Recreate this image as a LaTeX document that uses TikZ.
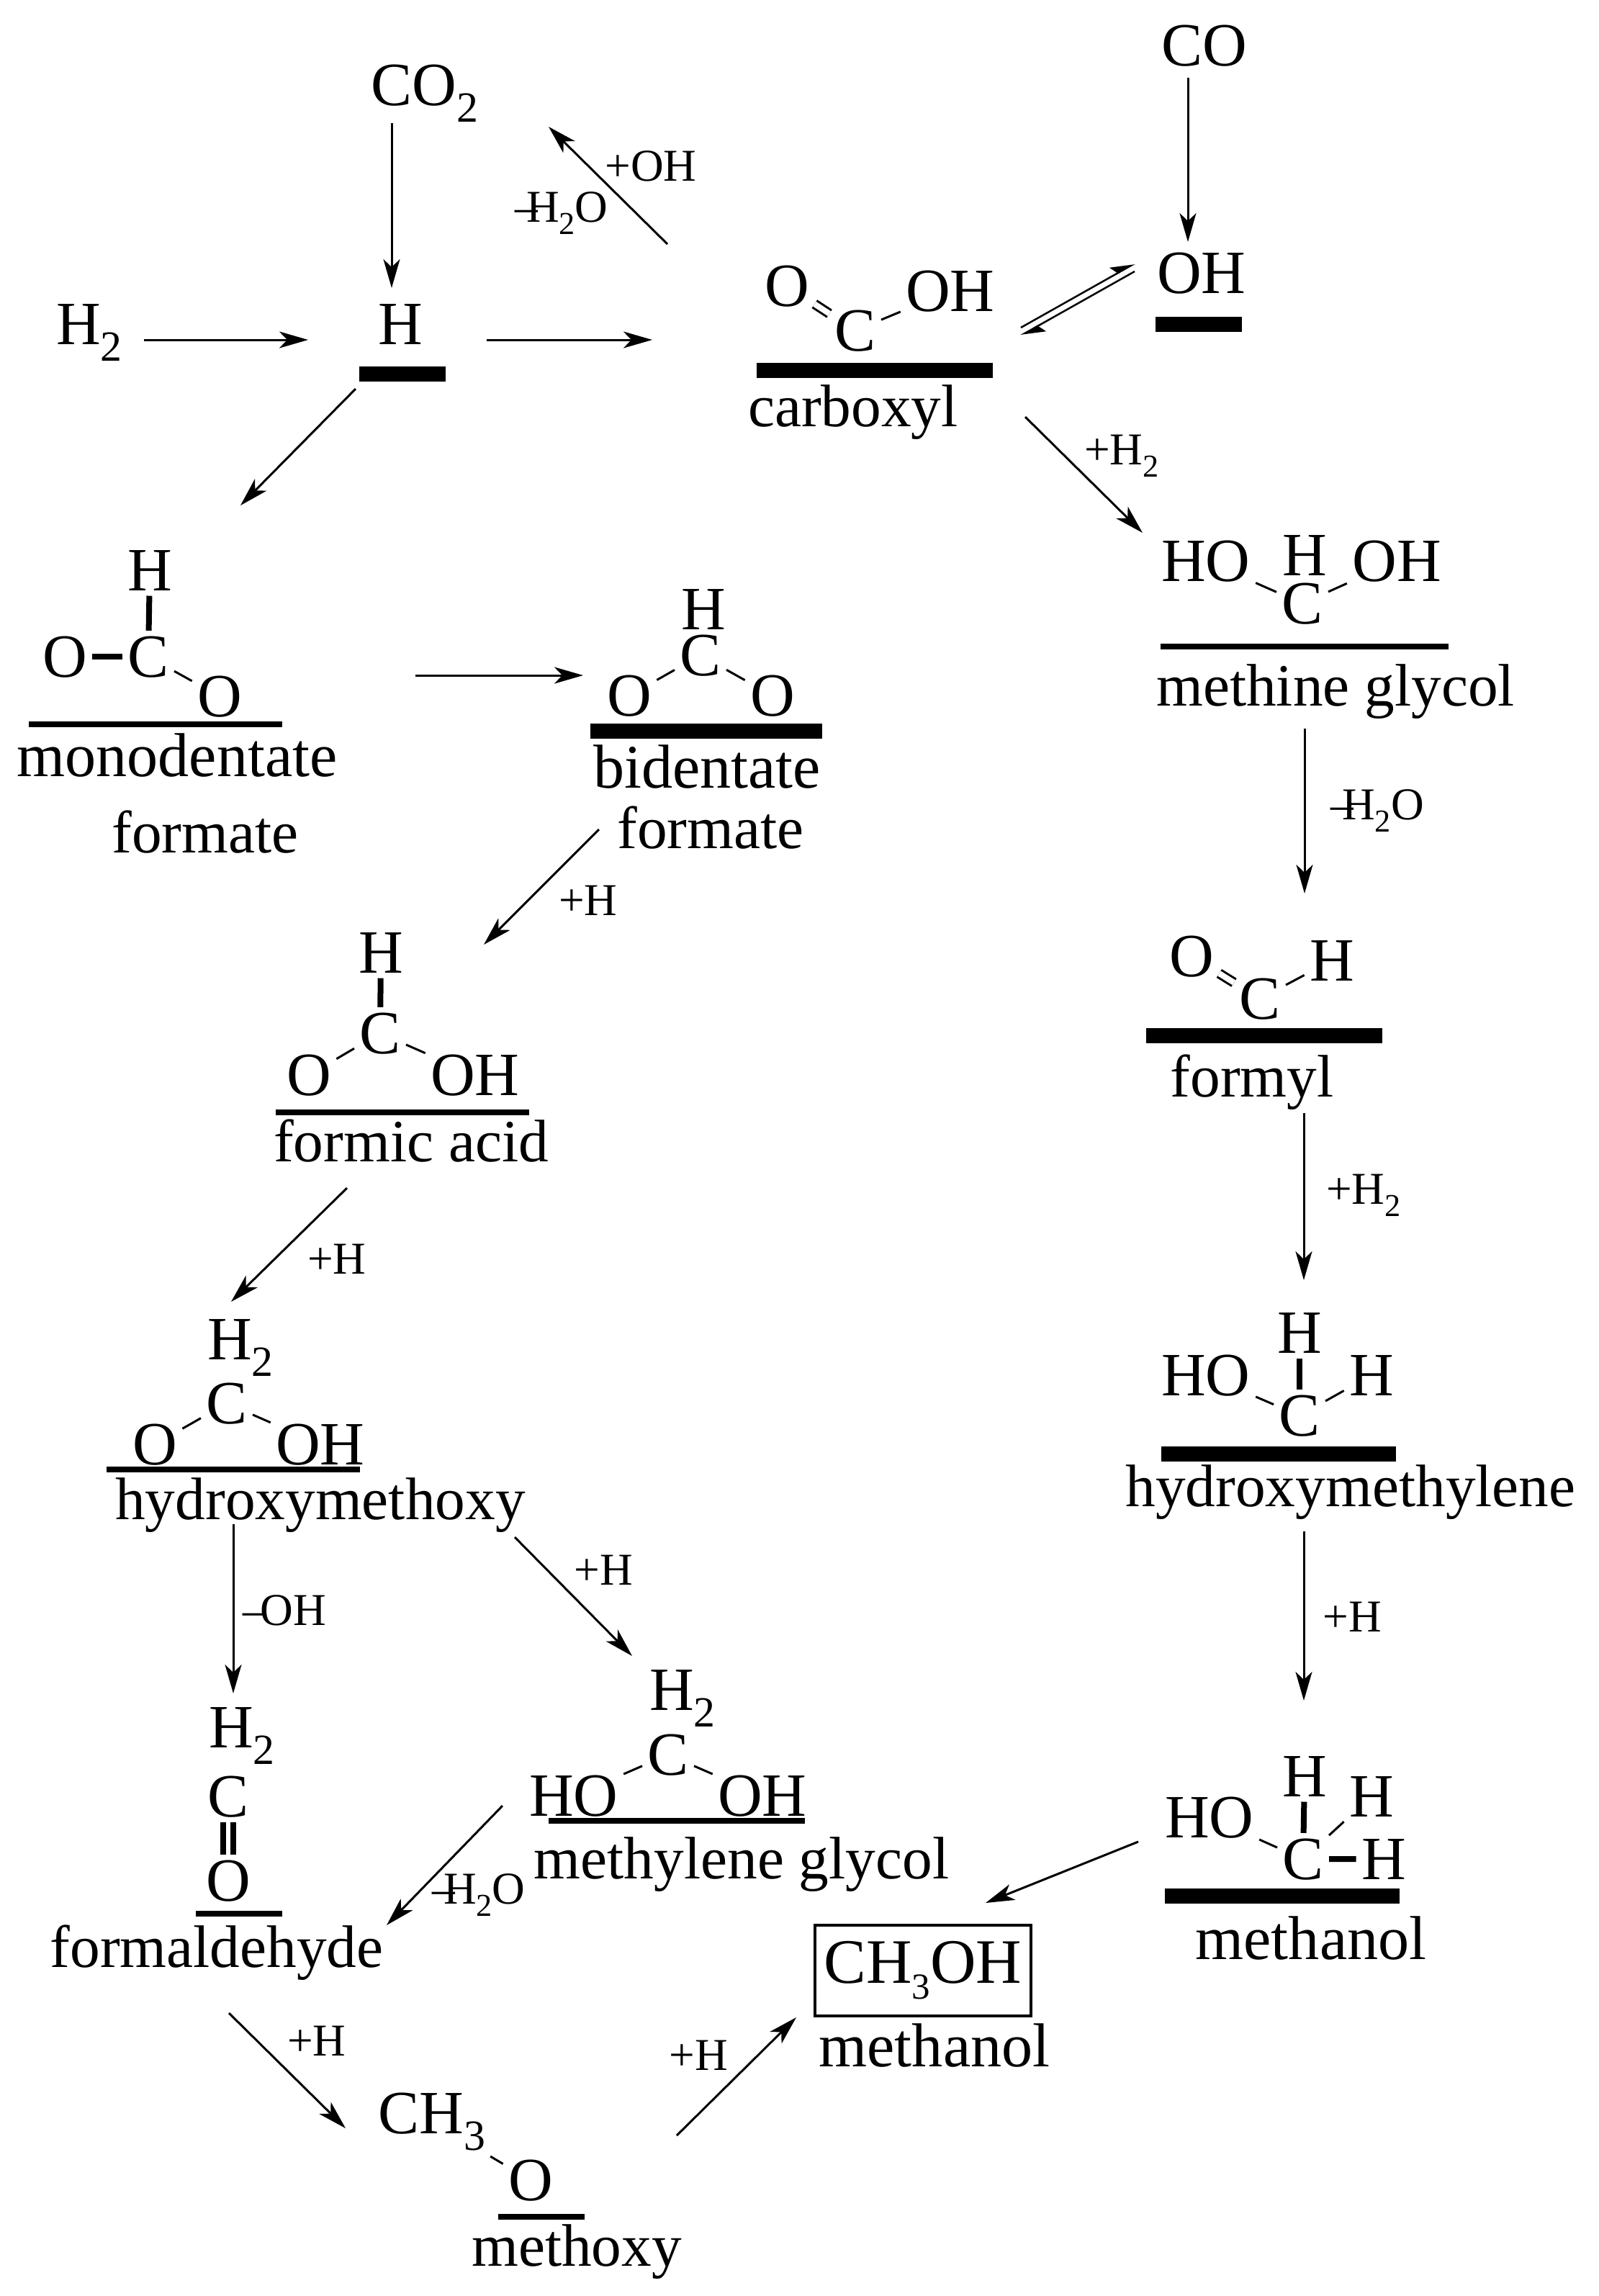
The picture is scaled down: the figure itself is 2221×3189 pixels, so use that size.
\documentclass[tikz,border=0pt]{standalone}
\usepackage{fontspec}
\setmainfont{Liberation Serif}
\usetikzlibrary{arrows.meta}
\newcommand{\sbs}[1]{\raisebox{-0.28em}{\scalebox{0.7}{#1}}}
\newcommand{\sbt}[1]{\raisebox{-0.25em}{\scalebox{0.58}{#1}}}
\newcommand{\minus}{--\kern-0.25em}
\tikzset{
	atom/.style={anchor=base, inner sep=0pt, outer sep=0.075cm, font=\fontsize{24.3}{26}\selectfont},
	species/.style={anchor=base, inner sep=0pt, font=\fontsize{23.7}{26}\selectfont},
	specieslg/.style={species, font=\fontsize{24.5}{26}\selectfont},
	rlabel/.style={anchor=base, inner sep=0pt, font=\fontsize{18}{20}\selectfont},
	site/.style={fill=black, inner sep=0pt, minimum height=0.21cm},
	film/.style={fill=black, inner sep=0pt, minimum height=0.085cm},
	bond/.style={line width=0.03cm},
	heavy/.style={line width=0.08cm},
	rxn/.style={line width=0.03cm, -{Stealth[length=0.4cm,width=0.23cm,inset=0.11cm]}},
	half/.style={line width=0.025cm, -{Stealth[length=0.3cm,width=0.24cm,inset=0.06cm,harpoon]}}
}
\begin{document}
\begin{tikzpicture}[x=0.01cm, y=-0.01cm]
	\useasboundingbox (0,0) rectangle (2221,3189);
	\node [atom] at (590,146) (COtwo) {CO\sbs{2}};
	\node [atom] at (124,478) (Hgas) {H\sbs{2}};
	\node [atom] at (556,478) (Hs) {H};
	\node [site, minimum width=1.2cm] at (559,519) (Hbar) {};
	\node [atom] at (1673,91) (COgas) {CO};
	\node [atom] at (1669,407) (OHs) {OH};
	\node [site, minimum width=1.2cm] at (1665,450) (OHbar) {};
	\node [rlabel] at (904,251) (plusOH) {+OH};
	\node [rlabel] at (780,308) (minusW) {\minus H\sbs{2}O};

	\node [atom] at (1093,425) (CbO) {O};
	\node [atom] at (1188,487) (CbC) {C};
	\node [atom] at (1320,432) (CbOH) {OH};
	\node [site, minimum width=3.27cm] at (1215,514) (Cbbar) {};
	\node [species] at (1185,592) (Cb) {carboxyl};
	\draw [bond, double, double distance=0.08cm] (CbO) -- (CbC);
	\draw [bond] (CbC) -- (CbOH);

	\node [atom] at (208,820) (MfH) {H};
	\node [atom] at (90,940) (MfOa) {O};
	\node [atom] at (206,940) (MfC) {C};
	\node [atom] at (305,995) (MfOb) {O};
	\node [film, minimum width=3.51cm] at (216,1006) (Mfbar) {};
	\node [specieslg] at (246,1078) (Mf) {monodentate};
	\node [species] at (285,1184) (Mfb) {formate};
	\draw [heavy] (MfH) -- (MfC);
	\draw [heavy] (MfOa) -- (MfC);
	\draw [bond] (MfC) -- (MfOb);

	\node [atom] at (977,874) (BfH) {H};
	\node [atom] at (973,938) (BfC) {C};
	\node [atom] at (874,994) (BfOa) {O};
	\node [atom] at (1073,994) (BfOb) {O};
	\node [site, minimum width=3.21cm] at (981,1015) (Bfbar) {};
	\node [specieslg] at (982,1094) (Bf) {bidentate};
	\node [species] at (987,1178) (Bfb) {formate};
	\draw [bond] (BfC) -- (BfOa);
	\draw [bond] (BfC) -- (BfOb);

	\node [atom] at (529,1351) (FaH) {H};
	\node [atom] at (528,1463) (FaC) {C};
	\node [atom] at (429,1521) (FaO) {O};
	\node [atom] at (660,1521) (FaOH) {OH};
	\node [film, minimum width=3.51cm] at (559,1545) (Fabar) {};
	\node [species] at (571,1613) (Fa) {formic acid};
	\draw [heavy] (FaH) -- (FaC);
	\draw [bond] (FaC) -- (FaO);
	\draw [bond] (FaC) -- (FaOH);

	\node [atom] at (334,1888) (HmH) {H\sbs{2}};
	\node [atom] at (315,1977) (HmC) {C};
	\node [atom] at (215,2034) (HmO) {O};
	\node [atom] at (445,2034) (HmOH) {OH};
	\node [film, minimum width=3.52cm] at (324,2041) (Hmbar) {};
	\node [species] at (445,2110) (Hm) {hydroxymethoxy};
	\draw [bond] (HmC) -- (HmO);
	\draw [bond] (HmC) -- (HmOH);

	\node [atom] at (336,2427) (FdH) {H\sbs{2}};
	\node [atom] at (317,2523) (FdC) {C};
	\node [atom] at (317,2640) (FdO) {O};
	\node [film, minimum width=1.2cm] at (332,2658) (Fdbar) {};
	\node [species] at (301,2732) (Fd) {formaldehyde};
	\draw [heavy] ([xshift=-0.07cm]FdC.south) -- ([xshift=-0.07cm]FdO.north);
	\draw [heavy] ([xshift=0.07cm]FdC.south) -- ([xshift=0.07cm]FdO.north);

	\node [atom] at (948,2375) (MgH) {H\sbs{2}};
	\node [atom] at (928,2465) (MgC) {C};
	\node [atom] at (797,2522) (MgHO) {HO};
	\node [atom] at (1059,2522) (MgOH) {OH};
	\node [film, minimum width=3.56cm] at (940,2529) (Mgbar) {};
	\node [species] at (1030,2609) (Mg) {methylene glycol};
	\draw [bond] (MgC) -- (MgHO);
	\draw [bond] (MgC) -- (MgOH);

	\node [atom] at (600,2963) (MxC) {CH\sbs{3}};
	\node [atom] at (737,3056) (MxO) {O};
	\node [film, minimum width=1.2cm] at (752,3079) (Mxbar) {};
	\node [species] at (801,3147) (Mx) {methoxy};
	\draw [bond] (MxC) -- (MxO);

	\node [atom] at (1675,807) (GlHO) {HO};
	\node [atom] at (1812,799) (GlH) {H};
	\node [atom] at (1940,807) (GlOH) {OH};
	\node [atom] at (1809,866) (GlC) {C};
	\node [film, minimum width=4cm] at (1812,898) (Glbar) {};
	\node [species] at (1855,980) (Gl) {methine glycol};
	\draw [bond] (GlHO) -- (GlC);
	\draw [bond] (GlC) -- (GlOH);

	\node [atom] at (1655,1356) (FyO) {O};
	\node [atom] at (1750,1415) (FyC) {C};
	\node [atom] at (1850,1362) (FyH) {H};
	\node [site, minimum width=3.27cm] at (1756,1438) (Fybar) {};
	\node [species] at (1739,1523) (Fy) {formyl};
	\draw [bond, double, double distance=0.08cm] (FyO) -- (FyC);
	\draw [bond] (FyC) -- (FyH);

	\node [atom] at (1805,1879) (HyH) {H};
	\node [atom] at (1675,1938) (HyHO) {HO};
	\node [atom] at (1905,1938) (HyHr) {H};
	\node [atom] at (1805,1994) (HyC) {C};
	\node [site, minimum width=3.26cm] at (1776,2019) (Hybar) {};
	\node [species] at (1876,2092) (Hy) {hydroxymethylene};
	\draw [heavy] (HyH) -- (HyC);
	\draw [bond] (HyHO) -- (HyC);
	\draw [bond] (HyC) -- (HyHr);

	\node [atom] at (1680,2552) (MeHO) {HO};
	\node [atom] at (1812,2495) (MeHa) {H};
	\node [atom] at (1905,2523) (MeHb) {H};
	\node [atom] at (1810,2610) (MeC) {C};
	\node [atom] at (1922,2610) (MeHc) {H};
	\node [site, minimum width=3.26cm] at (1781,2633) (Mebar) {};
	\node [specieslg] at (1821,2721) (Me) {methanol};
	\draw [heavy] (MeHa) -- (MeC);
	\draw [heavy] (MeC) -- (MeHc);
	\draw [bond] (MeHO) -- (MeC);
	\draw [bond] (MeC) -- (MeHb);

	\node [draw, line width=0.04cm, inner sep=0pt, minimum width=3cm, minimum height=1.26cm, font=\fontsize{25}{26}\selectfont] at (1282,2737) (Box) {CH\sbt{3}OH};
	\node [specieslg] at (1298,2870) (Prod) {methanol};

	\node [rlabel] at (1558,645) (plusHa) {+H\sbs{2}};
	\node [rlabel] at (1913,1138) (minusWa) {\minus H\sbs{2}O};
	\node [rlabel] at (1894,1672) (plusHb) {+H\sbs{2}};
	\node [rlabel] at (1878,2266) (plusHc) {+H};
	\node [rlabel] at (817,1271) (plusHd) {+H};
	\node [rlabel] at (468,1769) (plusHe) {+H};
	\node [rlabel] at (395,2257) (minusOH) {--\kern-0.12em OH};
	\node [rlabel] at (838,2201) (plusHf) {+H};
	\node [rlabel] at (665,2644) (minusWb) {\minus H\sbs{2}O};
	\node [rlabel] at (440,2855) (plusHg) {+H};
	\node [rlabel] at (970,2875) (plusHi) {+H};

	\draw [rxn] ([shift={(-46,25)}]COtwo.base) -- ([shift={(-12,-78)}]Hs.base);
	\draw [rxn] ([shift={(76,-6)}]Hgas.base) -- ([shift={(-128,-6)}]Hs.base);
	\draw [rxn] ([shift={(120,-6)}]Hs.base) -- ([shift={(-282,-15)}]CbC.base);
	\draw [rxn] ([shift={(-65,21)}]Hbar.center) -- ([shift={(126,-118)}]MfH.base);
	\draw [rxn] ([shift={(-166,-86)}]CbO.base) -- ([shift={(172,30)}]COtwo.base);
	\draw [rxn] ([shift={(-23,17)}]COgas.base) -- ([shift={(-19,-71)}]OHs.base);
	\draw [half] ([shift={(203,-59)}]Cbbar.center) -- ([shift={(-93,-41)}]OHs.base);
	\draw [half] ([shift={(-93,-30)}]OHs.base) -- ([shift={(203,-48)}]Cbbar.center);
	\draw [rxn] ([shift={(239,-13)}]Cb.base) -- ([shift={(-88,-67)}]GlHO.base);
	\draw [rxn] ([shift={(-43,32)}]Gl.base) -- ([shift={(62,-174)}]FyC.base);
	\draw [rxn] ([shift={(72,23)}]Fy.base) -- ([shift={(6,-101)}]HyH.base);
	\draw [rxn] ([shift={(-65,35)}]Hy.base) -- ([shift={(-1,-133)}]MeHa.base);
	\draw [rxn] ([shift={(272,-57)}]MfOb.base) -- ([shift={(-64,-56)}]BfOa.base);
	\draw [rxn] ([shift={(-155,-26)}]Bfb.base) -- ([shift={(143,-39)}]FaH.base);
	\draw [rxn] ([shift={(-89,37)}]Fa.base) -- ([shift={(-13,-80)}]HmH.base);
	\draw [rxn] ([shift={(-121,7)}]Hm.base) -- ([shift={(-12,-75)}]FdH.base);
	\draw [rxn] ([shift={(270,25)}]Hm.base) -- ([shift={(-70,-75)}]MgH.base);
	\draw [rxn] ([shift={(-99,-14)}]MgHO.base) -- ([shift={(236,-58)}]Fd.base);
	\draw [rxn] ([shift={(17,64)}]Fd.base) -- ([shift={(-120,-7)}]MxC.base);
	\draw [rxn] ([shift={(203,-90)}]MxO.base) -- ([shift={(-176,65)}]Box.center);
	\draw [rxn] ([shift={(-99,6)}]MeHO.base) -- ([shift={(87,-94)}]Box.center);
\end{tikzpicture}
\end{document}
